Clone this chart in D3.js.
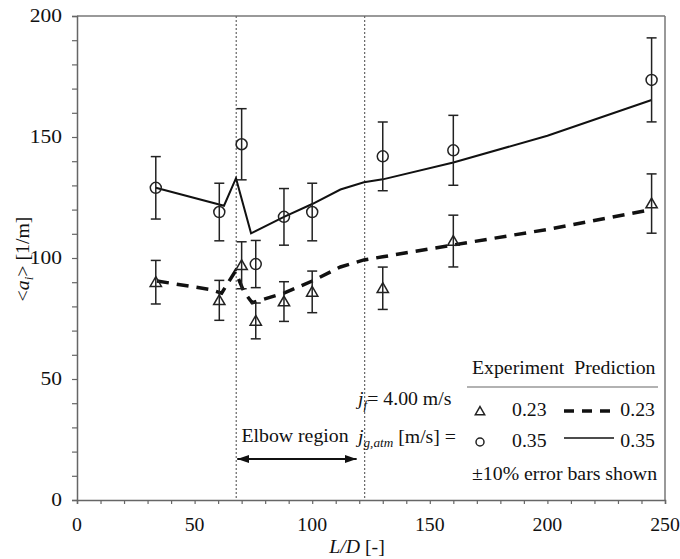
<!DOCTYPE html>
<html>
<head>
<meta charset="utf-8">
<script src="https://cdn.jsdelivr.net/npm/d3@7"></script>
<style>
  body { margin: 0; background: #fff; }
  svg text { font-family: "Liberation Serif", "Times New Roman", serif; fill: #111; white-space: pre; }
</style>
</head>
<body>
<svg id="chart" width="680" height="559"></svg>
<script>
// Data
const ldExp = [33.5, 60.5, 70, 76, 88, 100, 130, 160, 244.3];
const aiLow = [90, 82.5, 97, 74, 82, 86, 87.5, 107, 122.5];   // jg,atm = 0.23 (triangles)
const aiHigh = [129, 119, 147, 97.5, 117, 119, 142, 144.5, 173.6]; // jg,atm = 0.35 (circles)
const errFrac = 0.10;

// Model predictions
const predLowX = [34, 56.5, 61.5, 67.3, 71, 74.5, 88, 100, 112, 122, 130, 160, 200, 244.3];
const predLowY = [90.5, 87, 85.5, 94.5, 86, 81.5, 85.5, 90.5, 96.3, 99.2, 100.5, 105.4, 111.8, 120];
const predHighX = [33.5, 62.5, 67.6, 74, 88, 100, 112, 122, 130, 160, 200, 244.3];
const predHighY = [129, 121.6, 133, 110.2, 117, 122.3, 128.3, 131.3, 132.5, 139.5, 150.5, 165.3];

const elbowBounds = [67.7, 122.3];
const xTicks = [0, 50, 100, 150, 200, 250];
const yTicks = [0, 50, 100, 150, 200];

/* Layout */
const SX = 1.1; // the source figure's text is a bit wide
const svg = d3.select("#chart");
const x = d3.scaleLinear().domain([0, 250]).range([77, 665]);
const y = d3.scaleLinear().domain([0, 200]).range([500, 16]);

function txt(parent, px, py, anchor, size) {
    return parent.append("text")
        .attr("transform", `translate(${px},${py}) scale(${SX},1)`)
        .attr("text-anchor", anchor || "start")
        .attr("xml:space", "preserve")
        .style("font-size", (size || 18) + "px");
}

// Frame top + right
svg.append("line").attr("x1", x(0)).attr("x2", x(250)).attr("y1", y(200)).attr("y2", y(200))
    .attr("stroke", "#777").attr("stroke-width", 1.5);
svg.append("line").attr("x1", x(250)).attr("x2", x(250)).attr("y1", y(200)).attr("y2", y(0))
    .attr("stroke", "#777").attr("stroke-width", 1.5);

// Axes
const xAxis = svg.append("g").attr("transform", `translate(0,${y(0)})`)
    .call(d3.axisBottom(x).tickValues(d3.range(0, 251, 10)).tickSize(4).tickFormat(""));
const yAxis = svg.append("g").attr("transform", `translate(${x(0)},0)`)
    .call(d3.axisLeft(y).tickValues(d3.range(0, 201, 10)).tickSize(5).tickFormat(""));
[xAxis, yAxis].forEach(a => {
    a.select(".domain").attr("stroke", "#666").attr("stroke-width", 1.5);
    a.selectAll(".tick line").attr("stroke", "#666").attr("stroke-width", 1.2);
});

xTicks.forEach(t => txt(svg, x(t), 531, "middle").text(t));
yTicks.forEach(t => txt(svg, 62, y(t) + 6, "end", 19.5).text(t));

// Axis titles
const xt = txt(svg, 357, 553, "middle");
xt.append("tspan").style("font-style", "italic").text("L/D");
xt.append("tspan").text(" [-]");

const yt = svg.append("text")
    .attr("transform", `translate(29,259) rotate(-90) scale(${SX},1)`)
    .attr("text-anchor", "middle")
    .style("font-size", "18px");
yt.append("tspan").text("<");
yt.append("tspan").style("font-style", "italic").text("a");
yt.append("tspan").style("font-style", "italic").style("font-size", "12px").attr("dy", 4).text("i");
yt.append("tspan").attr("dy", -4).text("> [1/m]");

// Elbow region guides
elbowBounds.forEach(b => {
    svg.append("line").attr("x1", x(b)).attr("x2", x(b)).attr("y1", y(200)).attr("y2", y(0))
        .attr("stroke", "#666").attr("stroke-width", 1.2).attr("stroke-dasharray", "2,2");
});
const defs = svg.append("defs");
defs.append("marker").attr("id", "ah").attr("viewBox", "0 0 10 10").attr("refX", 10).attr("refY", 5)
    .attr("markerWidth", 6).attr("markerHeight", 6).attr("orient", "auto-start-reverse")
    .append("path").attr("d", "M0,1.5 L10,5 L0,8.5 Z").attr("fill", "#111");
svg.append("line").attr("x1", x(elbowBounds[0]) + 1).attr("x2", x(elbowBounds[1]) - 8)
    .attr("y1", 459).attr("y2", 459).attr("stroke", "#111").attr("stroke-width", 2)
    .attr("marker-start", "url(#ah)").attr("marker-end", "url(#ah)");
txt(svg, 295, 442, "middle").text("Elbow region");

// Prediction lines
const line = d3.line().x(d => x(d[0])).y(d => y(d[1]));
svg.append("path").datum(d3.zip(predHighX, predHighY)).attr("d", line)
    .attr("fill", "none").attr("stroke", "#111").attr("stroke-width", 2);
svg.append("path").datum(d3.zip(predLowX, predLowY)).attr("d", line)
    .attr("fill", "none").attr("stroke", "#111").attr("stroke-width", 3.5)
    .attr("stroke-dasharray", "12,8");

// Error bars
function errBars(vals) {
    const g = svg.append("g").attr("stroke", "#222").attr("stroke-width", 1.5);
    ldExp.forEach((l, i) => {
        const lo = y(vals[i] * (1 - errFrac)), hi = y(vals[i] * (1 + errFrac)), cx = x(l);
        g.append("line").attr("x1", cx).attr("x2", cx).attr("y1", lo).attr("y2", hi);
        g.append("line").attr("x1", cx - 5).attr("x2", cx + 5).attr("y1", lo).attr("y2", lo);
        g.append("line").attr("x1", cx - 5).attr("x2", cx + 5).attr("y1", hi).attr("y2", hi);
    });
}
errBars(aiLow);
errBars(aiHigh);

// Markers
const tri = d3.symbol().type(d3.symbolTriangle).size(55);
svg.append("g").selectAll("path").data(d3.zip(ldExp, aiLow)).join("path")
    .attr("d", tri).attr("transform", d => `translate(${x(d[0])},${y(d[1]) + 1})`)
    .attr("fill", "none").attr("stroke", "#222").attr("stroke-width", 1.5);
svg.append("g").selectAll("circle").data(d3.zip(ldExp, aiHigh)).join("circle")
    .attr("cx", d => x(d[0])).attr("cy", d => y(d[1])).attr("r", 5.5)
    .attr("fill", "none").attr("stroke", "#222").attr("stroke-width", 1.5);

// Legend
const lg = svg.append("g");
txt(lg, 472, 374, "start").text("Experiment  Prediction");
lg.append("line").attr("x1", 467).attr("x2", 658).attr("y1", 387).attr("y2", 387)
    .attr("stroke", "#666").attr("stroke-width", 1.2);

const jf = txt(lg, 358, 405, "start");
jf.append("tspan").style("font-style", "italic").text("j");
jf.append("tspan").style("font-style", "italic").style("font-size", "12px").attr("dy", 4).text("f");
jf.append("tspan").attr("dy", -4).text("= 4.00 m/s");

const jg = txt(lg, 358, 443, "start");
jg.append("tspan").style("font-style", "italic").text("j");
jg.append("tspan").style("font-style", "italic").style("font-size", "12px").attr("dy", 4).text("g,atm");
jg.append("tspan").attr("dy", -4).text(" [m/s] =");

lg.append("path").attr("d", d3.symbol().type(d3.symbolTriangle).size(38))
    .attr("transform", "translate(480,412)").attr("fill", "none").attr("stroke", "#222").attr("stroke-width", 1.5);
lg.append("circle").attr("cx", 480).attr("cy", 442).attr("r", 4)
    .attr("fill", "none").attr("stroke", "#222").attr("stroke-width", 1.5);
txt(lg, 512, 416, "start").text("0.23");
txt(lg, 512, 447, "start").text("0.35");
lg.append("line").attr("x1", 564).attr("x2", 617).attr("y1", 411).attr("y2", 411)
    .attr("stroke", "#111").attr("stroke-width", 3.5).attr("stroke-dasharray", "10,8");
lg.append("line").attr("x1", 564).attr("x2", 614).attr("y1", 438).attr("y2", 438)
    .attr("stroke", "#111").attr("stroke-width", 1.5);
txt(lg, 655, 416, "end").text("0.23");
txt(lg, 655, 447, "end").text("0.35");
txt(lg, 472, 480, "start").text("±10% error bars shown");
</script>
</body>
</html>
